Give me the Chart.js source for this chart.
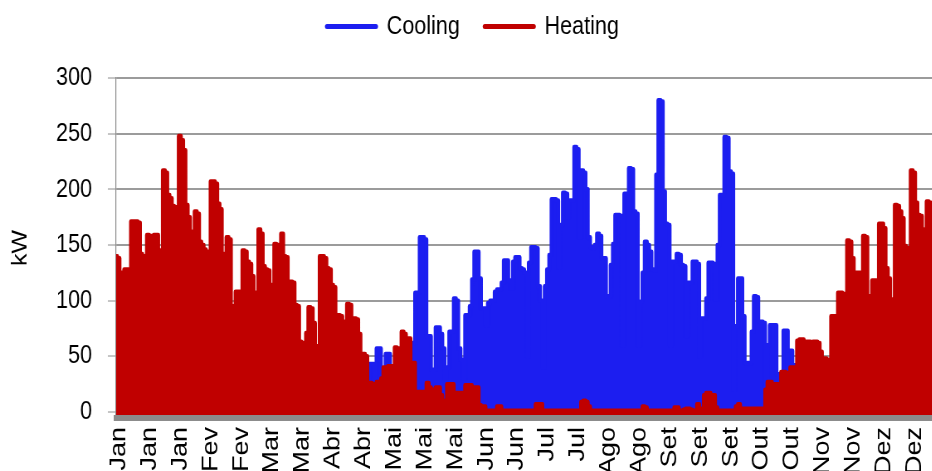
<!DOCTYPE html>
<html>
<head>
<meta charset="utf-8">
<title>Cooling / Heating load</title>
<script src="https://cdn.jsdelivr.net/npm/chart.js@4.4.1/dist/chart.umd.min.js"></script>
<style>
  html, body { margin: 0; padding: 0; background: #fff; overflow: hidden; }
</style>
</head>
<body>
<!-- drawn wide, shown narrow: the original export is horizontally condensed -->
<canvas id="loadChart" width="1145" height="500" style="display:block;width:950px;height:500px"></canvas>
<script>
// daily peak load, kW (day 0 = 1 Jan)
const cooling = [
  0,0,0,0,0,0,0,0,0,0, 0,0,0,0,0,0,0,0,0,0,
  0,0,0,0,0,0,0,0,0,0, 0,0,0,0,0,0,0,0,0,0,
  0,0,0,0,0,0,0,0,0,0, 0,0,0,0,0,0,0,0,0,0,
  0,0,0,0,0,0,0,0,0,0, 0,0,0,0,0,0,0,0,0,0,
  0,0,0,0,0,0,0,0,0,0, 0,0,0,0,0,0,0,0,0,0,
  0,0,0,0,0,0,0,0,0,0,
  0,0,43,43,20,57,57,20,25,52,
  52,30,35,35,35,35,35,35,35,35,
  62,62,107,107,157,157,155,68,68,38,
  38,76,76,70,57,29,40,72,72,102,
  100,57,47,30,87,87,95,119,144,144,
  120,93,93,78,98,100,100,108,110,110,
  116,136,136,118,111,135,139,139,129,128,
  125,50,134,148,148,147,113,100,40,113,
  128,141,191,191,190,130,168,197,196,175,
  190,190,238,236,157,217,215,200,157,148,
  147,150,160,158,138,138,104,104,132,151,
  177,177,176,60,196,196,219,218,180,178,
  60,99,125,153,150,144,128,127,213,280,
  279,198,169,168,60,135,135,142,141,132,
  131,68,116,116,135,135,133,50,84,84,
  102,134,134,133,101,150,195,195,247,246,
  216,214,20,77,120,120,86,44,44,44,
  72,104,103,81,81,80,20,60,78,78,
  78,34,34,34,73,73,55,55,42,42,
  30,30,25,20,15,10,0,0,0,0,
  0,0,0,0,0,0,0,0,0,0, 0,0,0,0,0,0,0,0,0,0,
  0,0,0,0,0,0,0,0,0,0, 0,0,0,0,0,0,0,0,0,0,
  0,0,0,0,0,0,0,0,0,0, 0,0,0,0,0
];

const heating = [
  140,138,125,112,128,128,47,171,171,171,
  170,142,140,60,159,158,132,159,159,145,
  54,217,215,195,192,185,184,98,248,244,
  235,186,175,162,77,180,178,153,150,146,
  144,60,207,207,205,187,182,142,60,157,
  155,95,87,108,108,45,145,144,135,133,
  122,107,50,164,160,131,128,127,114,30,
  151,150,148,160,140,139,117,117,116,96,
  95,63,62,15,71,94,93,80,59,58,
  140,140,138,129,128,114,112,20,87,86,
  81,80,97,96,84,84,83,70,52,52,
  50,10,26,25,25,27,27,30,40,40,
  41,41,41,58,57,20,72,70,66,66,
  44,44,18,18,18,18,18,26,22,20,
  19,22,22,15,8,10,25,25,25,17,
  17,17,17,10,24,24,24,22,22,22,
  6,5,5,1,1,1,1,1,5,5,
  1,1,1,1,1,1,1,1,1,1,
  1,1,1,1,1,7,7,7,1,1,
  1,1,1,1,1,1,1,1,1,1,
  1,1,1,1,1,9,10,9,5,1,
  1,1,1,1,1,1,1,1,1,1,
  1,1,1,1,1,1,1,1,1,1,
  1,1,5,4,1,1,1,1,1,1,
  1,1,1,1,1,1,4,4,1,1,
  2,3,3,2,1,1,7,1,3,15,
  17,17,15,15,4,1,1,1,1,1,
  1,1,1,5,7,3,3,3,3,3,
  3,3,3,3,3,3,20,27,27,19,
  25,25,24,36,36,35,29,40,40,40,
  64,65,65,50,63,63,62,63,63,62,
  54,48,48,47,30,86,86,86,107,107,
  106,40,154,153,138,125,125,125,96,158,
  157,104,50,118,118,117,169,169,165,129,
  120,101,100,186,185,180,174,149,147,144,
  217,215,188,177,176,164,160,189,188,162,
  160,158,150,120,60
];

const tickLabels = ['Jan','Jan','Jan','Fev','Fev','Mar','Mar','Abr','Abr','Mai','Mai','Mai',
  'Jun','Jun','Jul','Jul','Ago','Ago','Set','Set','Set','Out','Out','Nov','Nov','Dez','Dez'];
const tickStart = 1.3;   // day of first label
const tickStep = 13.46;  // days between labels
const yTicks = [0, 50, 100, 150, 200, 250, 300];

const days = heating.map((_, i) => i);

Chart.defaults.font.family = "'Liberation Sans', Arial, sans-serif";
Chart.defaults.font.size = 26;
Chart.defaults.color = '#000';

const BLUE = '#1c1ef0';
const RED = '#c00000';
const GRID = '#9b9b9b';
const AXIS = '#8c8c8c';
const FILL_TO = -2.7;

// extra room between legend and plot area
const legendGap = {
  id: 'legendGap',
  beforeLayout(chart) {
    const lg = chart.legend;
    if (lg && !lg._gapPatched) {
      const fit = lg.fit;
      lg.fit = function () { fit.call(this); this.height += 28.5; };
      lg._gapPatched = true;
    }
  }
};

const ctx = document.getElementById('loadChart').getContext('2d');
const loadChart = new Chart(ctx, {
    type: 'line',
    data: {
        labels: days,
        datasets: [{
            label: 'Cooling',
            data: cooling,
            borderColor: BLUE,
            backgroundColor: BLUE,
            fill: { value: FILL_TO },
            order: 1
        }, {
            label: 'Heating',
            data: heating,
            borderColor: RED,
            backgroundColor: RED,
            fill: { value: FILL_TO },
            order: 0
        }]
    },
    options: {
        responsive: false,
        animation: false,
        events: [],
        layout: { padding: { top: -16.5, right: 5, bottom: 0, left: 0 } },
        elements: {
            point: { radius: 0 },
            line: {
                borderWidth: 4.5,
                tension: 0,
                stepped: 'middle',
                borderJoinStyle: 'round',
                borderCapStyle: 'round'
            }
        },
        plugins: {
            legend: {
                position: 'top',
                labels: {
                    usePointStyle: true,
                    pointStyle: 'line',
                    pointStyleWidth: 59,
                    padding: 30,
                    font: { size: 26 },
                    color: '#000',
                    sort: (a, b) => a.datasetIndex - b.datasetIndex,
                    generateLabels: chart => Chart.defaults.plugins.legend.labels.generateLabels(chart)
                        .map(item => Object.assign(item, { lineWidth: 5, lineCap: 'round' }))
                }
            },
            tooltip: { enabled: false }
        },
        scales: {
            x: {
                type: 'linear',
                min: 0,
                max: 365,
                grid: { display: false, drawTicks: false },
                border: { display: true, color: AXIS, width: 6 },
                ticks: {
                    autoSkip: false,
                    minRotation: 90,
                    maxRotation: 90,
                    padding: 9,
                    font: { size: 27 },
                    color: '#000',
                    callback: (v, i) => tickLabels[i]
                },
                afterBuildTicks: s => { s.ticks = tickLabels.map((t, i) => ({ value: tickStart + i * tickStep })); },
                afterFit: s => { s.height = 82; }
            },
            y: {
                min: -5.4,
                max: 300,
                grid: { color: GRID, lineWidth: 2, tickLength: 10, tickWidth: 1, tickColor: AXIS },
                border: { display: true, color: AXIS, width: 1.2 },
                ticks: { padding: 19, font: { size: 26 }, color: '#000' },
                afterBuildTicks: s => { s.ticks = yTicks.map(v => ({ value: v })); },
                title: { display: true, text: 'kW', font: { size: 25 }, color: '#000', padding: { top: 10, bottom: 0 } },
                afterFit: s => { s.width = 140; }
            }
        }
    },
    plugins: [legendGap]
});
</script>
</body>
</html>
